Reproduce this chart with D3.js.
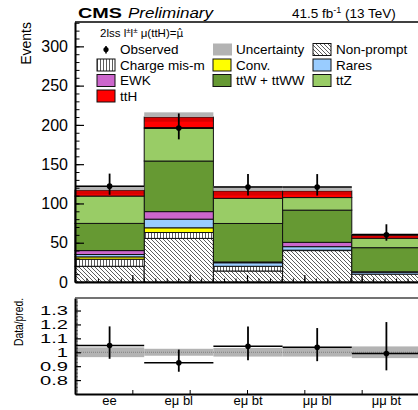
<!DOCTYPE html>
<html>
<head>
<meta charset="utf-8">
<script src="https://cdn.jsdelivr.net/npm/d3@7"></script>
<style>
  body { margin: 0; background: #fff; }
  svg { display: block; font-family: "Liberation Sans", Arial, sans-serif; }
</style>
</head>
<body>
<div id="wrapper"></div>
<script>
// ---- data ----
const categories = ["ee", "eμ bl", "eμ bt", "μμ bl", "μμ bt"]

// stacked predictions, bottom to top
const nonPrompt = [20, 55.5, 14, 40, 10]
const chargeMis = [9, 7.5, 6, 0, 0]
const conv = [3, 6, 0, 0.5, 0]
const rares = [3, 11, 4.5, 4.5, 2.5]
const ewk = [5, 9.6, 1, 5.5, 0.5]
const ttW = [34.6, 64.4, 49, 41, 30.7]
const ttZ = [34.8, 42, 32, 16, 12]
const ttH = [7.6, 14, 9.5, 8.5, 4]
const uncertainty = [5.5, 6, 6, 5, 2.5]

const observed = [122, 196, 121, 121, 60]
const observedHi = [138, 214.6, 137.4, 137.4, 73.5]
const observedLo = [111, 181.6, 110, 110, 52.6]

const ratio = [1.048, 0.924, 1.043, 1.036, 0.991]
const ratioHi = [1.186, 1.019, 1.186, 1.174, 1.217]
const ratioLo = [0.953, 0.86, 0.943, 0.936, 0.87]
const ratioUnc = [0.035, 0.025, 0.031, 0.031, 0.042]

const yTicks = [0, 50, 100, 150, 200, 250, 300]
const ratioTicks = [0.8, 0.9, 1, 1.1, 1.2, 1.3]

// process list for the stack + legend
const processes = [
  { key: "np", label: "Non-prompt", values: nonPrompt, fill: "url(#hatchNP)" },
  { key: "cm", label: "Charge mis-m", values: chargeMis, fill: "url(#hatchCM)" },
  { key: "conv", label: "Conv.", values: conv, fill: "#ffff00" },
  { key: "rares", label: "Rares", values: rares, fill: "#99ccff" },
  { key: "ewk", label: "EWK", values: ewk, fill: "#cc66cc" },
  { key: "ttw", label: "ttW + ttWW", values: ttW, fill: "#669933" },
  { key: "ttz", label: "ttZ", values: ttZ, fill: "#99cc66" },
  { key: "tth", label: "ttH", values: ttH, fill: "#ff0000" }
]

const table = categories.map((c, i) => {
  const row = { cat: c }
  processes.forEach(p => row[p.key] = p.values[i])
  return row
})
const series = d3.stack().keys(processes.map(p => p.key))(table)
const totals = table.map(r => d3.sum(processes, p => r[p.key]))

// ---- dimensions ----
const width = 418, height = 410
const left = 75, right = 421
const mainTop = 22, mainBottom = 282
const ratioTop = 298, ratioBottom = 394

const svg = d3.select("#wrapper").append("svg")
  .attr("width", width).attr("height", height)

const defs = svg.append("defs")
const np = defs.append("pattern").attr("id", "hatchNP")
  .attr("patternUnits", "userSpaceOnUse").attr("width", 4).attr("height", 4)
np.append("rect").attr("width", 4).attr("height", 4).attr("fill", "#fff")
np.append("path").attr("d", "M-1,-1 L5,5 M-1,3 L1,5 M3,-1 L5,1")
  .attr("stroke", "#333").attr("stroke-width", 0.8)
const cm = defs.append("pattern").attr("id", "hatchCM")
  .attr("patternUnits", "userSpaceOnUse").attr("width", 3).attr("height", 3)
cm.append("rect").attr("width", 3).attr("height", 3).attr("fill", "#fff")
cm.append("path").attr("d", "M1.5,0 L1.5,3").attr("stroke", "#333").attr("stroke-width", 0.8)

// ---- scales ----
const x = d3.scaleBand().domain(categories).range([left, right])
const y = d3.scaleLinear().domain([0, 331]).range([mainBottom, mainTop])
const yr = d3.scaleLinear().domain([0.7, 1.39]).range([ratioBottom, ratioTop])
const xTick = d3.scaleLinear().domain([0, 6]).range([left, 419])

// ---- main panel: stack ----
const stackG = svg.append("g")
series.forEach((s, k) => {
  stackG.append("g").selectAll("rect")
    .data(s.filter(d => d[1] - d[0] > 0))
    .join("rect")
    .attr("x", d => x(d.data.cat))
    .attr("y", d => y(d[1]))
    .attr("width", x.bandwidth())
    .attr("height", d => y(d[0]) - y(d[1]))
    .attr("fill", processes[k].fill)
    .attr("stroke", "#111")
    .attr("stroke-width", 1)
})

// uncertainty band: solid above the total, darkening below
svg.append("g").selectAll("rect")
  .data(categories)
  .join("rect")
  .attr("x", c => x(c))
  .attr("y", (c, i) => y(totals[i] + uncertainty[i]))
  .attr("width", x.bandwidth())
  .attr("height", (c, i) => y(totals[i]) - y(totals[i] + uncertainty[i]))
  .attr("fill", "#b3b3b3")
svg.append("g").selectAll("rect")
  .data(categories)
  .join("rect")
  .attr("x", c => x(c))
  .attr("y", (c, i) => y(totals[i]))
  .attr("width", x.bandwidth())
  .attr("height", (c, i) => y(totals[i] - uncertainty[i]) - y(totals[i]))
  .attr("fill", "#000").attr("opacity", 0.15)

// observed
const obsG = svg.append("g")
categories.forEach((c, i) => {
  const cx = x(c) + x.bandwidth() / 2
  obsG.append("line").attr("x1", x(c)).attr("x2", x(c) + x.bandwidth())
    .attr("y1", y(observed[i])).attr("y2", y(observed[i]))
    .attr("stroke", "#000").attr("stroke-width", 1.5)
  obsG.append("line").attr("x1", cx).attr("x2", cx)
    .attr("y1", y(observedHi[i])).attr("y2", y(observedLo[i]))
    .attr("stroke", "#000").attr("stroke-width", 1.8)
  obsG.append("circle").attr("cx", cx).attr("cy", y(observed[i])).attr("r", 2.8)
})

// ---- main axes ----
const yMinor = d3.range(0, 331, 10)
svg.append("g").attr("transform", `translate(${left},0)`)
  .call(d3.axisLeft(y).tickValues(yMinor).tickSize(-4.5).tickFormat(""))
  .call(g => g.select(".domain").remove())
  .call(g => g.selectAll("line").attr("stroke-width", 1))
svg.append("g").attr("transform", `translate(${left},0)`)
  .call(d3.axisLeft(y).tickValues(yTicks).tickSize(-9).tickPadding(7).tickSizeOuter(0))
  .call(g => g.select(".domain").attr("stroke-width", 2))
  .call(g => g.selectAll("line").attr("stroke-width", 1.2))
  .call(g => g.selectAll("text").attr("font-size", 16).attr("fill", "#000")
    .attr("font-family", "Liberation Sans, Arial, sans-serif"))

// top frame
svg.append("line").attr("x1", left).attr("x2", width)
  .attr("y1", mainTop).attr("y2", mainTop).attr("stroke", "#000").attr("stroke-width", 1.5)

// bottom axis of main panel (numeric ticks without labels)
const xMinor = d3.range(0, 6.01, 0.2)
svg.append("g").attr("transform", `translate(0,${mainBottom})`)
  .call(d3.axisBottom(xTick).tickValues(xMinor).tickSize(-3.5).tickFormat("").tickSizeOuter(0))
  .call(g => g.select(".domain").attr("stroke-width", 2))
svg.append("g").attr("transform", `translate(0,${mainBottom})`)
  .call(d3.axisBottom(xTick).tickValues([1, 2, 3, 4, 5]).tickSize(-7).tickFormat(""))
  .call(g => g.select(".domain").remove())
  .call(g => g.selectAll("line").attr("stroke-width", 1.2))

// ---- titles ----
svg.append("text").attr("x", 78).attr("y", 18)
  .attr("font-size", 15.5).attr("font-weight", "bold")
  .attr("textLength", 44).attr("lengthAdjust", "spacingAndGlyphs").text("CMS")
svg.append("text").attr("x", 128).attr("y", 18)
  .attr("font-size", 15.5).attr("font-style", "italic")
  .attr("textLength", 85).attr("lengthAdjust", "spacingAndGlyphs").text("Preliminary")
const lumi = svg.append("text").attr("x", 292).attr("y", 18).attr("font-size", 13.5)
lumi.append("tspan").text("41.5 fb")
lumi.append("tspan").attr("dy", -5).attr("font-size", 9).text("-1")
lumi.append("tspan").attr("dy", 5).text(" (13 TeV)")

svg.append("text").attr("transform", "translate(31,22) rotate(-90)")
  .attr("text-anchor", "end").attr("font-size", 14).text("Events")

// ---- legend ----
const head = svg.append("text").attr("x", 100).attr("y", 37).attr("font-size", 11.5)
head.append("tspan").text("2lss l")
head.append("tspan").attr("dy", -4).attr("font-size", 8).text("±")
head.append("tspan").attr("dy", 4).text("l")
head.append("tspan").attr("dy", -4).attr("font-size", 8).text("±")
head.append("tspan").attr("dy", 4).text(" μ(ttH)=")
head.append("tspan").attr("font-family", "DejaVu Sans").attr("font-size", 10.5).text("μ\u0302")

const legendItems = [
  { label: "Observed", type: "obs" },
  { label: "Uncertainty", type: "unc" },
  processes[0], processes[1], processes[2], processes[3],
  processes[4], processes[5], processes[6], processes[7]
]
const colX = [97, 213, 313]
const rowY = [49.5, 65, 80.5, 96]
const legend = svg.append("g").attr("font-size", 13.5)
legendItems.forEach((item, i) => {
  const cx = colX[i % 3], cy = rowY[Math.floor(i / 3)]
  if (item.type === "obs") {
    legend.append("line").attr("x1", cx + 9).attr("x2", cx + 9)
      .attr("y1", cy - 3.5).attr("y2", cy + 4).attr("stroke", "#000").attr("stroke-width", 1.6)
    legend.append("circle").attr("cx", cx + 9).attr("cy", cy).attr("r", 2.6)
  } else if (item.type === "unc") {
    legend.append("rect").attr("x", cx).attr("y", cy - 6).attr("width", 19).attr("height", 12)
      .attr("fill", "#b3b3b3")
  } else {
    legend.append("rect").attr("x", cx).attr("y", cy - 6).attr("width", 18).attr("height", 12)
      .attr("fill", item.fill).attr("stroke", "#111").attr("stroke-width", 1)
  }
  legend.append("text").attr("x", cx + 23).attr("y", cy + 4.8).text(item.label)
})

// ---- ratio panel ----
const ratioG = svg.append("g")
ratioG.append("g").selectAll("rect")
  .data(categories)
  .join("rect")
  .attr("x", c => x(c))
  .attr("y", (c, i) => yr(1 + ratioUnc[i]))
  .attr("width", x.bandwidth())
  .attr("height", (c, i) => yr(1 - ratioUnc[i]) - yr(1 + ratioUnc[i]))
  .attr("fill", "#b3b3b3")
ratioG.append("line").attr("x1", left).attr("x2", width)
  .attr("y1", yr(1)).attr("y2", yr(1))
  .attr("stroke", "#808080").attr("stroke-width", 1.2).attr("stroke-dasharray", "1,1")

categories.forEach((c, i) => {
  const cx = x(c) + x.bandwidth() / 2
  ratioG.append("line").attr("x1", x(c)).attr("x2", x(c) + x.bandwidth())
    .attr("y1", yr(ratio[i])).attr("y2", yr(ratio[i]))
    .attr("stroke", "#000").attr("stroke-width", 1.5)
  ratioG.append("line").attr("x1", cx).attr("x2", cx)
    .attr("y1", yr(ratioHi[i])).attr("y2", yr(ratioLo[i]))
    .attr("stroke", "#000").attr("stroke-width", 1.8)
  ratioG.append("circle").attr("cx", cx).attr("cy", yr(ratio[i])).attr("r", 2.8)
})

const rMinor = d3.range(0.7, 1.39, 0.01)
svg.append("g").attr("transform", `translate(${left},0)`)
  .call(d3.axisLeft(yr).tickValues(rMinor).tickSize(-3).tickFormat(""))
  .call(g => g.select(".domain").remove())
  .call(g => g.selectAll("line").attr("stroke-width", 0.6))
svg.append("g").attr("transform", `translate(${left},0)`)
  .call(d3.axisLeft(yr).tickValues(ratioTicks).tickSize(-6).tickPadding(7)
    .tickFormat(d => String(+d.toFixed(1))).tickSizeOuter(0))
  .call(g => g.select(".domain").attr("stroke-width", 2))
  .call(g => g.selectAll("line").attr("stroke-width", 1.2))
  .call(g => g.selectAll("text").attr("font-size", 13).attr("fill", "#000")
    .attr("font-family", "Liberation Sans, Arial, sans-serif")
    .attr("x", 0).attr("transform", "translate(-7,0) scale(1.55,1)"))

svg.append("line").attr("x1", left).attr("x2", width)
  .attr("y1", ratioTop).attr("y2", ratioTop).attr("stroke", "#444").attr("stroke-width", 1.5)

svg.append("g").attr("transform", `translate(0,${ratioBottom})`)
  .call(d3.axisBottom(xTick).tickValues([1, 2, 3, 4, 5]).tickSize(-4).tickFormat("").tickSizeOuter(0))
  .call(g => g.select(".domain").attr("stroke-width", 2))

// category labels
svg.append("g").selectAll("text")
  .data(categories)
  .join("text")
  .attr("x", c => x(c) + x.bandwidth() / 2)
  .attr("y", 405)
  .attr("text-anchor", "middle")
  .attr("font-size", 13)
  .text(c => c)

svg.append("text").attr("transform", "translate(23,298) rotate(-90)")
  .attr("text-anchor", "end").attr("font-size", 13.5)
  .attr("textLength", 48).attr("lengthAdjust", "spacingAndGlyphs").text("Data/pred.")
</script>
</body>
</html>
